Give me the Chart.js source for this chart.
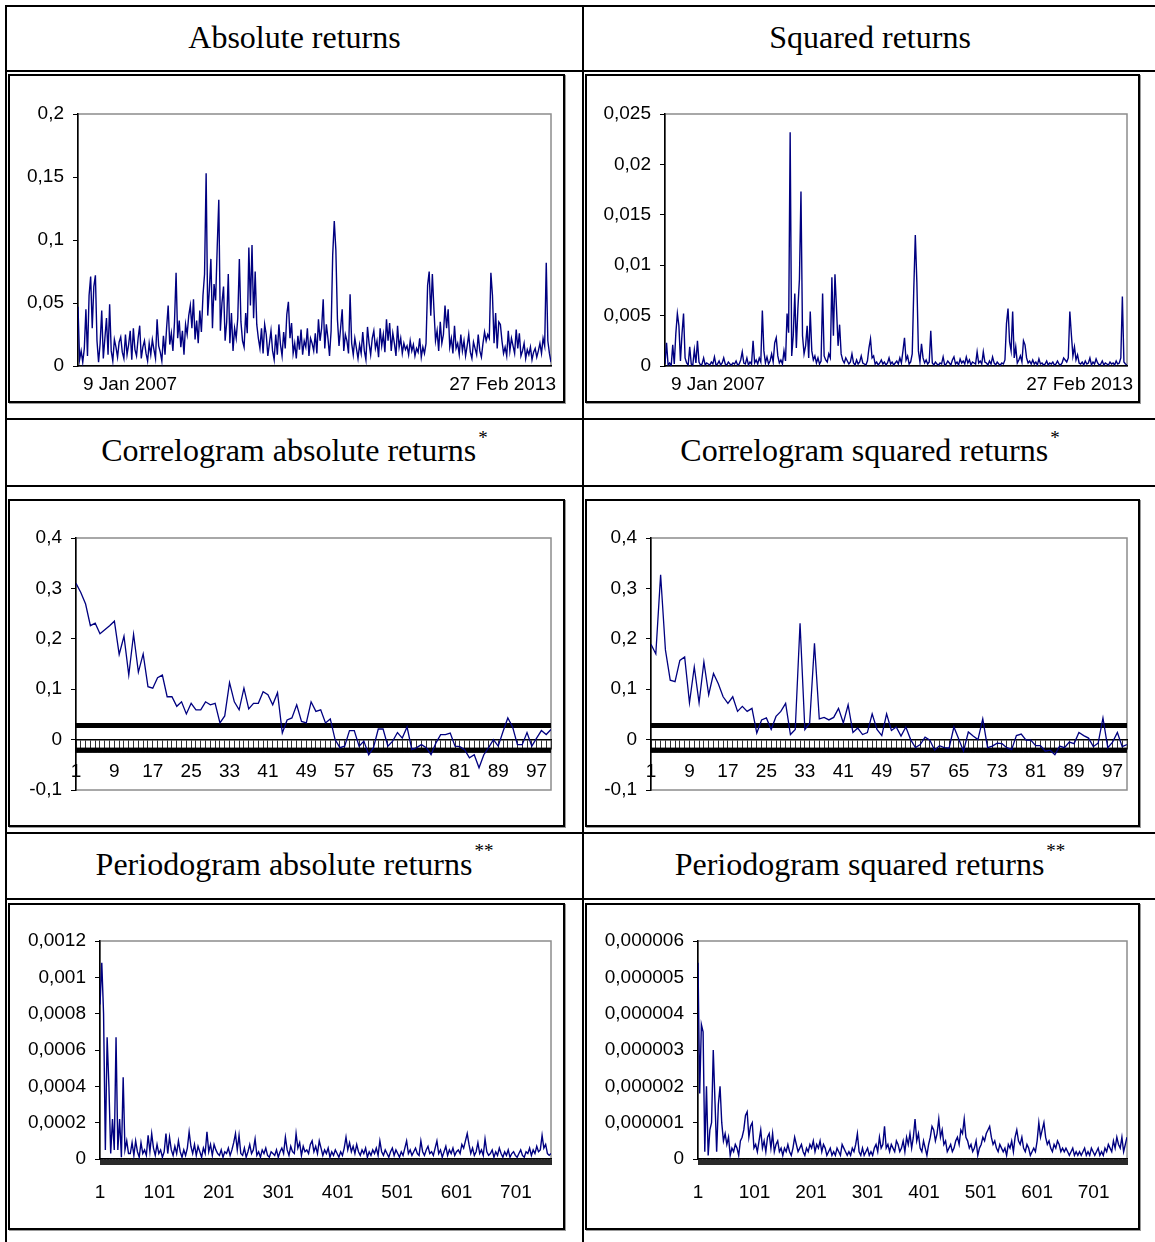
<!DOCTYPE html>
<html>
<head>
<meta charset="utf-8">
<script src="https://cdn.jsdelivr.net/npm/chart.js@4.4.0/dist/chart.umd.min.js"></script>
<style>
html,body{margin:0;padding:0;background:#fff;}
body{width:1155px;height:1242px;position:relative;overflow:hidden;}
.hl{position:absolute;background:#000;height:2px;}
.vl{position:absolute;background:#000;width:2px;}
.hdr{position:absolute;display:flex;align-items:center;justify-content:center;font-family:"Liberation Serif","Times New Roman",serif;font-size:32px;color:#000;white-space:nowrap;}
.st{font-size:19px;position:relative;top:-13px;margin-left:2px;}
.frame{position:absolute;border:2px solid #000;box-sizing:border-box;box-shadow:1px 1px 0 #999;background:#fff;}
.frame canvas{position:absolute;left:0;top:0;}
</style>
</head>
<body>
<!-- table grid -->
<div class="hl" style="left:5px;top:5px;width:1150px"></div>
<div class="hl" style="left:5px;top:70px;width:1150px"></div>
<div class="hl" style="left:5px;top:418px;width:1150px"></div>
<div class="hl" style="left:5px;top:485px;width:1150px"></div>
<div class="hl" style="left:5px;top:832px;width:1150px"></div>
<div class="hl" style="left:5px;top:898px;width:1150px"></div>
<div class="vl" style="left:5px;top:5px;height:1237px"></div>
<div class="vl" style="left:582px;top:5px;height:1237px"></div>

<div class="hdr" style="left:7px;top:6px;width:575px;height:63px">Absolute returns</div>
<div class="hdr" style="left:584px;top:6px;width:572px;height:63px">Squared returns</div>
<div class="hdr" style="left:7px;top:418px;width:575px;height:65px">Correlogram absolute returns<span class="st">*</span></div>
<div class="hdr" style="left:584px;top:418px;width:572px;height:65px">Correlogram squared returns<span class="st">*</span></div>
<div class="hdr" style="left:7px;top:832px;width:575px;height:64px">Periodogram absolute returns<span class="st">**</span></div>
<div class="hdr" style="left:584px;top:832px;width:572px;height:64px">Periodogram squared returns<span class="st">**</span></div>

<div class="frame" style="left:8px;top:74px;width:557px;height:329px"><canvas id="c1" width="553" height="325"></canvas></div>
<div class="frame" style="left:585px;top:74px;width:555px;height:329px"><canvas id="c2" width="551" height="325"></canvas></div>
<div class="frame" style="left:8px;top:499px;width:557px;height:328px"><canvas id="c3" width="553" height="324"></canvas></div>
<div class="frame" style="left:585px;top:499px;width:555px;height:328px"><canvas id="c4" width="551" height="324"></canvas></div>
<div class="frame" style="left:8px;top:903px;width:557px;height:327px"><canvas id="c5" width="553" height="323"></canvas></div>
<div class="frame" style="left:585px;top:903px;width:555px;height:327px"><canvas id="c6" width="551" height="323"></canvas></div>

<script>
// ---------------- DATA ----------------
const dateLabels = ['9 Jan 2007', '27 Feb 2013'];

const absReturns = [
0.047,0.005,0.012,0.003,0.014,0.045,0.008,0.056,0.071,0.030,0.063,0.072,0.020,0.003,0.018,0.044,0.006,0.022,0.038,0.009,0.049,0.012,0.004,0.021,0.015,0.007,0.019,0.023,0.011,0.006,
0.025,0.009,0.017,0.028,0.005,0.030,0.013,0.008,0.022,0.032,0.006,0.015,0.020,0.010,0.004,0.018,0.009,0.021,0.013,0.006,0.037,0.016,0.011,0.004,0.024,0.009,0.030,0.048,0.017,0.026,
0.012,0.035,0.074,0.022,0.036,0.015,0.028,0.009,0.033,0.025,0.040,0.048,0.030,0.053,0.021,0.036,0.018,0.044,0.027,0.056,0.073,0.153,0.040,0.060,0.085,0.030,0.065,0.052,0.094,0.132,
0.028,0.050,0.063,0.020,0.035,0.073,0.018,0.042,0.012,0.030,0.022,0.038,0.085,0.035,0.020,0.015,0.042,0.026,0.094,0.048,0.096,0.038,0.075,0.033,0.022,0.014,0.030,0.010,0.033,0.025,
0.008,0.018,0.028,0.012,0.005,0.025,0.009,0.033,0.017,0.008,0.027,0.014,0.041,0.051,0.022,0.034,0.010,0.018,0.006,0.024,0.013,0.029,0.009,0.020,0.015,0.030,0.008,0.022,0.018,0.012,
0.026,0.010,0.037,0.020,0.030,0.053,0.014,0.033,0.022,0.008,0.028,0.088,0.115,0.092,0.037,0.016,0.030,0.045,0.012,0.025,0.020,0.010,0.057,0.018,0.009,0.022,0.014,0.006,0.017,0.010,
0.027,0.012,0.005,0.031,0.018,0.009,0.022,0.028,0.014,0.020,0.007,0.030,0.016,0.025,0.011,0.037,0.020,0.034,0.012,0.026,0.018,0.008,0.032,0.015,0.022,0.010,0.018,0.013,0.016,0.009,
0.020,0.012,0.017,0.008,0.014,0.011,0.022,0.007,0.015,0.010,0.018,0.064,0.075,0.040,0.073,0.045,0.020,0.028,0.012,0.035,0.018,0.025,0.048,0.030,0.045,0.015,0.022,0.010,0.032,0.014,
0.018,0.009,0.025,0.012,0.020,0.008,0.016,0.025,0.011,0.006,0.019,0.014,0.009,0.025,0.012,0.007,0.018,0.027,0.020,0.025,0.022,0.074,0.056,0.018,0.042,0.014,0.035,0.033,0.020,0.010,
0.015,0.008,0.028,0.012,0.022,0.016,0.010,0.029,0.014,0.026,0.008,0.012,0.018,0.006,0.013,0.009,0.015,0.005,0.011,0.014,0.007,0.012,0.018,0.010,0.022,0.016,0.082,0.020,0.010,0.003
];

const sqReturns = [
0.0002,0.0023,0.0001,0.0003,0,0.0021,0.0002,0.0032,0.0052,0.0040,0.0005,0.0032,0.0052,0.0008,0.0003,0.0001,0.0019,0.0002,0.0001,0.0016,0.0003,0.0025,0.0004,0.0001,0.0002,0.0008,0.0001,0.0003,0.0002,0.0001,
0.0004,0.0002,0.0009,0.0001,0.0002,0.0005,0.0001,0.0003,0.0008,0.0002,0.0001,0.0004,0.0002,0.0001,0.0003,0.0002,0.0005,0.0001,0.0002,0.0006,0.0014,0.0003,0.0002,0.0008,0.0001,0.0004,0.0002,0.0025,0.0003,0.0006,
0.0002,0.0008,0.0004,0.0055,0.0015,0.0003,0.0009,0.0002,0.0005,0.0012,0.0004,0.0023,0.0028,0.0010,0.0003,0.0006,0.0002,0.0015,0.0005,0.0052,0.0033,0.0232,0.0010,0.0030,0.0072,0.0018,0.0057,0.0086,0.0173,0.0030,
0.0012,0.0020,0.0040,0.0008,0.0054,0.0015,0.0006,0.0010,0.0003,0.0008,0.0002,0.0005,0.0072,0.0010,0.0006,0.0004,0.0012,0.0008,0.0088,0.0030,0.0091,0.0057,0.0020,0.0041,0.0012,0.0006,0.0003,0.0008,0.0005,0.0002,
0.0004,0.0012,0.0003,0.0001,0.0006,0.0002,0.0004,0.0010,0.0003,0.0002,0.0001,0.0005,0.0018,0.0027,0.0008,0.0010,0.0002,0.0004,0.0001,0.0003,0.0006,0.0002,0.0004,0.0001,0.0003,0.0008,0.0002,0.0004,0.0001,0.0003,
0.0005,0.0002,0.0008,0.0003,0.0015,0.0028,0.0006,0.0010,0.0002,0.0004,0.0012,0.0076,0.0130,0.0083,0.0015,0.0004,0.0022,0.0008,0.0003,0.0006,0.0002,0.0004,0.0035,0.0003,0.0001,0.0004,0.0002,0.0001,0.0003,0.0002,
0.0009,0.0001,0.0002,0.0005,0.0003,0.0001,0.0006,0.0009,0.0002,0.0004,0.0001,0.0007,0.0003,0.0005,0.0002,0.0009,0.0003,0.0006,0.0001,0.0004,0.0003,0.0002,0.0014,0.0003,0.0005,0.0002,0.0014,0.0004,0.0003,0.0001,
0.0005,0.0002,0.0009,0.0003,0.0001,0.0004,0.0002,0.0001,0.0003,0.0002,0.0006,0.0042,0.0057,0.0024,0.0015,0.0054,0.0008,0.0019,0.0003,0.0006,0.0010,0.0004,0.0025,0.0021,0.0008,0.0003,0.0005,0.0002,0.0006,0.0002,
0.0004,0.0001,0.0007,0.0002,0.0003,0.0001,0.0002,0.0005,0.0001,0.0003,0.0002,0.0004,0.0001,0.0002,0.0005,0.0002,0.0001,0.0003,0.0008,0.0006,0.0004,0.0008,0.0054,0.0031,0.0010,0.0019,0.0006,0.0011,0.0003,0.0002,
0.0004,0.0001,0.0005,0.0002,0.0003,0.0008,0.0001,0.0004,0.0002,0.0007,0.0003,0.0001,0.0002,0.0005,0.0001,0.0003,0.0002,0.0001,0.0004,0.0002,0.0003,0.0001,0.0005,0.0002,0.0003,0.0008,0.0069,0.0004,0.0002,0.0001
];

const lags = Array.from({length: 100}, (_, i) => i + 1);
const acfXLabels = [1, 9, 17, 25, 33, 41, 49, 57, 65, 73, 81, 89, 97];

const acfAbs = [
0.310,0.292,0.269,0.226,0.231,0.210,0.218,0.226,0.235,0.169,
0.205,0.128,0.209,0.134,0.170,0.105,0.102,0.123,0.128,0.085,
0.085,0.066,0.075,0.051,0.072,0.059,0.059,0.075,0.069,0.072,
0.033,0.047,0.113,0.075,0.059,0.102,0.061,0.072,0.072,0.095,
0.089,0.069,0.093,0.013,0.039,0.043,0.069,0.036,0.033,0.075,
0.056,0.059,0.033,0.041,0.000,-0.016,-0.013,0.018,0.018,-0.013,
-0.003,-0.030,-0.016,0.021,0.021,-0.013,-0.003,0.014,0.003,0.025,
-0.020,-0.016,-0.010,-0.016,-0.030,-0.007,0.010,0.010,0.013,-0.013,
-0.014,-0.020,-0.036,-0.030,-0.056,-0.030,-0.016,0.000,-0.013,0.016,
0.043,0.025,-0.010,-0.010,0.014,-0.013,0.003,0.018,0.010,0.020
];

const acfSq = [
0.189,0.170,0.327,0.178,0.118,0.115,0.157,0.164,0.073,0.144,
0.073,0.154,0.089,0.131,0.111,0.085,0.072,0.085,0.056,0.066,
0.056,0.062,0.013,0.039,0.043,0.020,0.046,0.056,0.072,0.010,
0.020,0.231,0.020,0.033,0.191,0.041,0.044,0.039,0.044,0.062,
0.033,0.069,0.014,0.023,0.010,0.014,0.051,0.020,0.008,0.051,
0.018,0.025,0.007,0.025,0.000,-0.016,-0.010,0.005,-0.001,-0.021,
-0.012,-0.016,-0.017,0.025,0.001,-0.023,0.015,0.007,0.000,0.041,
-0.016,-0.013,-0.007,-0.008,-0.016,-0.020,0.008,0.011,-0.001,-0.001,
-0.012,-0.012,-0.023,-0.021,-0.030,-0.013,-0.016,-0.005,-0.008,0.014,
0.008,0.003,-0.014,-0.007,0.043,-0.016,-0.005,0.014,-0.014,-0.010
];

const ciUpper = 0.028;
const ciLower = -0.021;

// periodogram ordinates, read at every 3rd frequency (1, 4, 7, ..., 760)
const pgStep = 3;
const pgXLabels = [1, 101, 201, 301, 401, 501, 601, 701];
const pgMaxFreq = 760;

const pgAbs = [
85e-5,108e-5,80e-5,5e-5,67e-5,40e-5,3e-5,22e-5,5e-5,67e-5,5e-5,22e-5,1e-5,45e-5,5e-5,10e-5,3e-5,
3e-5,9e-5,2e-5,10e-5,4e-5,1e-5,9e-5,3e-5,5e-5,2e-5,
13e-5,4e-5,14e-5,6e-5,2e-5,8e-5,3e-5,5e-5,1e-5,4e-5,
14e-5,3e-5,12e-5,5e-5,2e-5,7e-5,3e-5,10e-5,4e-5,1e-5,
5e-5,2e-5,6e-5,15e-5,7e-5,3e-5,8e-5,2e-5,7e-5,4e-5,
1e-5,6e-5,3e-5,15e-5,4e-5,8e-5,2e-5,8e-5,5e-5,3e-5,
2e-5,5e-5,1e-5,4e-5,3e-5,6e-5,2e-5,5e-5,9e-5,14e-5,
5e-5,13e-5,3e-5,2e-5,6e-5,1e-5,4e-5,8e-5,3e-5,5e-5,
11e-5,2e-5,4e-5,1e-5,5e-5,3e-5,6e-5,2e-5,1e-5,4e-5,
3e-5,2e-5,5e-5,1e-5,4e-5,6e-5,3e-5,12e-5,5e-5,2e-5,
7e-5,4e-5,3e-5,14e-5,6e-5,9e-5,2e-5,7e-5,4e-5,5e-5,
3e-5,8e-5,10e-5,4e-5,7e-5,3e-5,10e-5,6e-5,2e-5,5e-5,
3e-5,6e-5,1e-5,4e-5,2e-5,5e-5,3e-5,1e-5,4e-5,2e-5,
6e-5,12e-5,5e-5,9e-5,4e-5,7e-5,3e-5,8e-5,4e-5,2e-5,
5e-5,3e-5,6e-5,1e-5,4e-5,2e-5,5e-5,3e-5,6e-5,2e-5,
10e-5,4e-5,2e-5,5e-5,3e-5,1e-5,4e-5,6e-5,2e-5,5e-5,
3e-5,1e-5,4e-5,2e-5,6e-5,10e-5,3e-5,5e-5,2e-5,4e-5,
6e-5,3e-5,2e-5,10e-5,4e-5,2e-5,5e-5,7e-5,3e-5,4e-5,
2e-5,6e-5,10e-5,3e-5,5e-5,1e-5,4e-5,7e-5,2e-5,5e-5,
3e-5,6e-5,2e-5,4e-5,5e-5,3e-5,8e-5,6e-5,10e-5,14e-5,
8e-5,3e-5,6e-5,2e-5,4e-5,9e-5,3e-5,5e-5,2e-5,11e-5,
4e-5,2e-5,3e-5,5e-5,1e-5,4e-5,2e-5,6e-5,3e-5,1e-5,
4e-5,2e-5,5e-5,1e-5,3e-5,4e-5,2e-5,1e-5,3e-5,5e-5,
2e-5,1e-5,4e-5,3e-5,6e-5,2e-5,5e-5,3e-5,7e-5,4e-5,
5e-5,13e-5,6e-5,8e-5,3e-5,2e-5,3e-5
];

const pgSq = [
54e-7,18e-7,37e-7,35e-7,2e-7,20e-7,1e-7,8e-7,10e-7,30e-7,
16e-7,2e-7,15e-7,20e-7,10e-7,5e-7,7e-7,4e-7,6e-7,1e-7,
3e-7,2e-7,4e-7,3e-7,1e-7,5e-7,6e-7,8e-7,12e-7,13e-7,
6e-7,9e-7,10e-7,3e-7,4e-7,2e-7,5e-7,8e-7,3e-7,5e-7,
2e-7,6e-7,7e-7,3e-7,7e-7,2e-7,4e-7,5e-7,2e-7,3e-7,
1e-7,3e-7,2e-7,4e-7,2e-7,1e-7,3e-7,6e-7,4e-7,2e-7,
3e-7,4e-7,2e-7,1e-7,3e-7,2e-7,4e-7,3e-7,5e-7,2e-7,
4e-7,3e-7,5e-7,2e-7,4e-7,3e-7,1e-7,2e-7,3e-7,1e-7,
2e-7,1e-7,3e-7,2e-7,1e-7,4e-7,3e-7,2e-7,1e-7,2e-7,
1e-7,3e-7,2e-7,4e-7,7e-7,2e-7,1e-7,3e-7,1e-7,2e-7,
3e-7,1e-7,2e-7,1e-7,3e-7,4e-7,2e-7,6e-7,3e-7,4e-7,
9e-7,3e-7,4e-7,2e-7,4e-7,3e-7,2e-7,5e-7,4e-7,2e-7,
3e-7,5e-7,2e-7,6e-7,4e-7,7e-7,3e-7,6e-7,11e-7,5e-7,
7e-7,3e-7,2e-7,5e-7,3e-7,1e-7,4e-7,6e-7,9e-7,8e-7,
5e-7,7e-7,11e-7,6e-7,8e-7,4e-7,5e-7,2e-7,3e-7,4e-7,
2e-7,3e-7,5e-7,6e-7,4e-7,8e-7,7e-7,11e-7,6e-7,5e-7,
3e-7,4e-7,2e-7,3e-7,5e-7,1e-7,3e-7,4e-7,6e-7,5e-7,
7e-7,8e-7,9e-7,6e-7,4e-7,5e-7,3e-7,2e-7,4e-7,3e-7,
2e-7,3e-7,1e-7,4e-7,3e-7,5e-7,2e-7,6e-7,8e-7,5e-7,
4e-7,6e-7,3e-7,2e-7,4e-7,3e-7,1e-7,2e-7,3e-7,2e-7,
5e-7,10e-7,6e-7,8e-7,10e-7,6e-7,4e-7,5e-7,3e-7,2e-7,
4e-7,3e-7,5e-7,4e-7,2e-7,3e-7,2e-7,3e-7,2e-7,1e-7,
2e-7,3e-7,1e-7,2e-7,1e-7,2e-7,1e-7,2e-7,3e-7,1e-7,
2e-7,1e-7,3e-7,2e-7,1e-7,2e-7,3e-7,1e-7,2e-7,1e-7,
3e-7,2e-7,4e-7,3e-7,2e-7,5e-7,3e-7,6e-7,4e-7,3e-7,
6e-7,2e-7,4e-7,6e-7
];

const yTicksAbs = [0, 0.05, 0.1, 0.15, 0.2];
const yTicksSq = [0, 0.005, 0.01, 0.015, 0.02, 0.025];
const yTicksAcf = [-0.1, 0, 0.1, 0.2, 0.3, 0.4];
const yTicksPgAbs = [0, 0.0002, 0.0004, 0.0006, 0.0008, 0.001, 0.0012];
const yTicksPgSq = [0, 0.000001, 0.000002, 0.000003, 0.000004, 0.000005, 0.000006];

// ---------------- RENDERING ----------------
const LINE = '#000080';
const AXF = {family: "'Liberation Sans', Arial, sans-serif", size: 19};
const fmt = v => String(parseFloat(Number(v).toFixed(9))).replace('.', ',');

const plotBorder = {
  id: 'plotBorder',
  beforeDraw(chart) {
    const {ctx, chartArea: a} = chart;
    ctx.save();
    ctx.strokeStyle = '#8c8c8c';
    ctx.lineWidth = 1.5;
    ctx.strokeRect(a.left, a.top, a.right - a.left, a.bottom - a.top);
    ctx.restore();
  }
};

const noSidePad = s => { s.paddingLeft = 0; s.paddingRight = 0; };

function yScale(ticksArr, width) {
  return {
    type: 'linear', position: 'left',
    min: ticksArr[0], max: ticksArr[ticksArr.length - 1],
    afterBuildTicks: s => { s.ticks = ticksArr.map(v => ({value: v})); },
    afterFit: s => { s.width = width; },
    ticks: {callback: v => fmt(v), color: '#000', font: AXF, padding: 9, autoSkip: false},
    grid: {drawOnChartArea: false, color: '#000', tickLength: 5, lineWidth: 1},
    border: {color: '#000', width: 1.5}
  };
}

function build(id, plot, xScale, yTicks, datasets, bottomPad) {
  const cv = document.getElementById(id);
  const W = cv.width;
  return new Chart(cv, {
    type: 'line',
    data: {datasets},
    options: {
      responsive: false, animation: false,
      layout: {padding: {left: 0, top: plot.t, right: W - plot.r, bottom: bottomPad}},
      plugins: {legend: {display: false}, tooltip: {enabled: false}},
      elements: {point: {radius: 0}, line: {tension: 0}},
      scales: {x: xScale, y: yScale(yTicks, plot.l)}
    },
    plugins: [plotBorder]
  });
}

function timeX(n, xh, offset) {
  return {
    type: 'linear', position: 'bottom', min: 0, max: n - 1,
    afterBuildTicks: s => { s.ticks = [{value: 0}, {value: n - 1}]; },
    afterFit: s => { s.height = xh; noSidePad(s); },
    ticks: {callback: (v, i) => dateLabels[i], align: 'inner', color: '#000', font: AXF,
            padding: 7, maxRotation: 0, minRotation: 0, autoSkip: false, labelOffset: offset},
    grid: {display: false, drawTicks: false},
    border: {color: '#000', width: 1.5}
  };
}

function acfX() {
  return {
    type: 'linear', position: {y: 0}, min: 1, max: 100,
    afterBuildTicks: s => { s.ticks = lags.map(v => ({value: v})); },
    afterFit: noSidePad,
    ticks: {callback: v => acfXLabels.includes(v) ? String(v) : '', color: '#000', font: AXF,
            padding: 12, maxRotation: 0, minRotation: 0, autoSkip: false},
    grid: {drawOnChartArea: false, color: '#333', tickLength: 9, lineWidth: 1},
    border: {color: '#000', width: 1.5}
  };
}

function pgX(xh) {
  return {
    type: 'linear', position: 'bottom', min: 1, max: pgMaxFreq,
    afterBuildTicks: s => { const t = []; for (let v = 1; v <= pgMaxFreq; v++) t.push({value: v}); s.ticks = t; },
    afterFit: s => { s.height = xh; noSidePad(s); },
    ticks: {callback: v => pgXLabels.includes(v) ? String(v) : '', color: '#000', font: AXF,
            padding: 16, maxRotation: 0, minRotation: 0, autoSkip: false},
    grid: {drawOnChartArea: false, color: '#2a2a2a', tickLength: 6, lineWidth: 1},
    border: {color: '#000', width: 1.5}
  };
}

const series = (arr, w) => ({data: arr.map((v, i) => ({x: i, y: v})), borderColor: LINE, borderWidth: w, pointRadius: 0});
const acfSeries = arr => ({data: arr.map((v, i) => ({x: lags[i], y: v})), borderColor: LINE, borderWidth: 1.3, pointRadius: 0});
const band = val => ({data: lags.map(l => ({x: l, y: val})), borderColor: '#000', borderWidth: 5,
  pointStyle: 'rect', pointRadius: 3.4, pointBackgroundColor: '#000', pointBorderColor: '#000', pointBorderWidth: 0});
const pgSeries = arr => ({data: arr.map((v, k) => ({x: 1 + k * pgStep, y: v})), borderColor: LINE, borderWidth: 1.4, pointRadius: 0});

// Panel 1: absolute returns
build('c1', {l: 68, r: 541, t: 38}, timeX(absReturns.length, 30, 5), yTicksAbs, [series(absReturns, 1.4)], 5);
// Panel 2: squared returns
build('c2', {l: 78, r: 540, t: 38}, timeX(sqReturns.length, 30, 6), yTicksSq, [series(sqReturns, 1.4)], 5);
// Panel 3: correlogram absolute
build('c3', {l: 66, r: 541, t: 37}, acfX(), yTicksAcf, [acfSeries(acfAbs), band(ciUpper), band(ciLower)], 35);
// Panel 4: correlogram squared
build('c4', {l: 64, r: 540, t: 37}, acfX(), yTicksAcf, [acfSeries(acfSq), band(ciUpper), band(ciLower)], 35);
// Panel 5: periodogram absolute
build('c5', {l: 90, r: 541, t: 36}, pgX(50), yTicksPgAbs, [pgSeries(pgAbs)], 19);
// Panel 6: periodogram squared
build('c6', {l: 111, r: 540, t: 36}, pgX(50), yTicksPgSq, [pgSeries(pgSq)], 19);
</script>
</body>
</html>
